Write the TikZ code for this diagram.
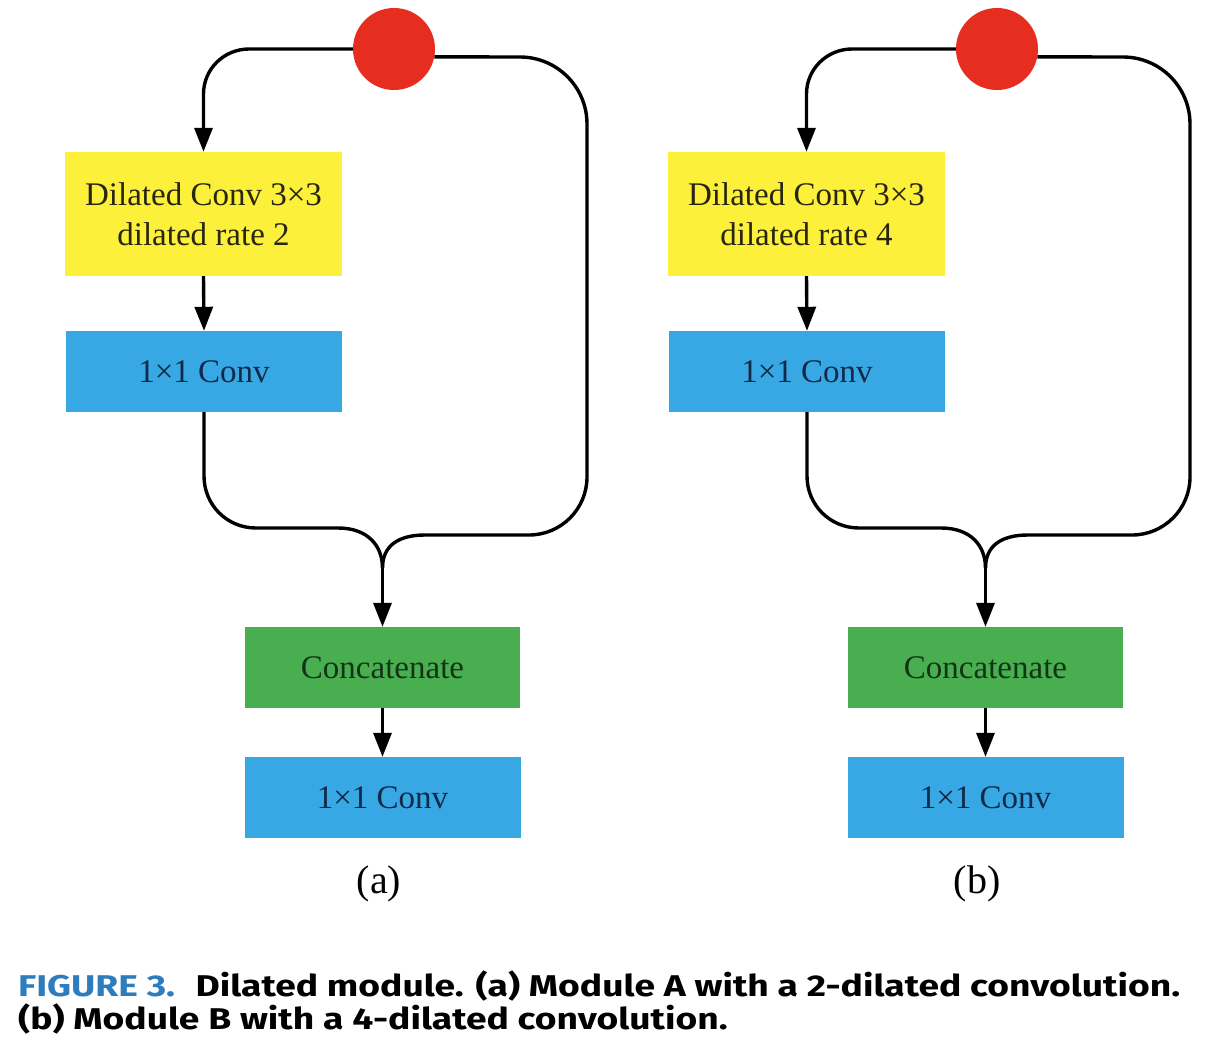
\documentclass[tikz,border=0pt]{standalone}
\usepackage{fontspec}
\setmainfont{Liberation Serif}
\newfontfamily\capfont{Fira Sans}
\usetikzlibrary{arrows.meta}
\definecolor{ybox}{RGB}{252,240,58}
\definecolor{bbox}{RGB}{56,168,228}
\definecolor{gbox}{RGB}{72,174,80}
\definecolor{rdot}{RGB}{229,45,32}
\definecolor{capblue}{RGB}{45,125,190}
\definecolor{ytext}{RGB}{40,38,15}
\definecolor{btext}{RGB}{16,42,72}
\definecolor{gtext}{RGB}{18,52,20}
\newsavebox\caponebox
\newsavebox\captwobox
\begin{document}
\sbox\caponebox{\capfont\bfseries\fontsize{30}{33}\selectfont\textcolor{capblue}{FIGURE 3.}\hspace{0.55em}Dilated module. (a) Module A with a 2-dilated convolution.}%
\sbox\captwobox{\capfont\bfseries\fontsize{30}{33}\selectfont (b) Module B with a 4-dilated convolution.}%
\pgfmathsetmacro\capsx{1162/\the\wd\caponebox}%
\begin{tikzpicture}[x=1pt,y=-1pt,
  boxstyle/.style={rectangle, inner sep=0pt, align=center,
    font=\fontsize{33}{40}\selectfont},
  ylw/.style={boxstyle, fill=ybox, text=ytext, minimum width=277pt, minimum height=124pt},
  blu/.style={boxstyle, fill=bbox, text=btext, minimum width=276pt, minimum height=81pt},
  grn/.style={boxstyle, fill=gbox, text=gtext, minimum width=275pt, minimum height=81pt},
  dot/.style={circle, fill=rdot, inner sep=0pt, minimum size=82pt},
  conn/.style={line width=3.4pt, black},
  arr/.style={conn, -{Triangle[length=24pt,width=18pt]}},
  sublabel/.style={font=\fontsize{40}{48}\selectfont, anchor=base, inner sep=0pt}
]
\useasboundingbox[fill=white] (0,0) rectangle (1208,1052);

\foreach \dx/\r/\p in {0/2/a, 603/4/b} {
  \begin{scope}[xshift=\dx pt]
    \node[dot] (C\p) at (394,49) {};
    \node[ylw] (Y\p) at (203.5,214) {Dilated Conv 3×3\\dilated rate \r};
    \node[blu] (B\p) at (204,371.5) {1×1 Conv};
    \node[grn] (G\p) at (382.5,667.5) {Concatenate};
    \node[blu] (D\p) at (382.5,797.5) {1×1 Conv};
    \coordinate (M\p) at (382.5,568);
    \draw[arr] (C\p.west) -- (249,49) .. controls (224,49) and (203.5,69) .. (203.5,94) -- (Y\p.north);
    \draw[arr] (Y\p.south) -- (B\p.north);
    \draw[conn] (C\p.-11) -- (520,57) .. controls (557,57) and (587,87) .. (587,124)
      -- (587,477) .. controls (587,509) and (561,535) .. (529,535)
      -- (425,535) .. controls (398,535) and (382.5,546) .. (M\p);
    \draw[conn] (B\p.south) -- (204,476) .. controls (204,505) and (227,528) .. (256,528)
      -- (338,528) .. controls (368,528) and (382.5,546) .. (M\p);
    \draw[arr] (M\p) -- (G\p.north);
    \draw[arr] (G\p.south) -- (D\p.north);
  \end{scope}
}
\node[sublabel] (la) at (379,893) {(a)};
\node[sublabel] (lb) at (977,893) {(b)};

\node[anchor=base west, inner sep=0pt, text=black] (cap1) at (18,996) {\scalebox{\capsx}[1]{\usebox\caponebox}};
\node[anchor=base west, inner sep=0pt, text=black] (cap2) at (18,1029) {\scalebox{\capsx}[1]{\usebox\captwobox}};
\end{tikzpicture}
\end{document}
